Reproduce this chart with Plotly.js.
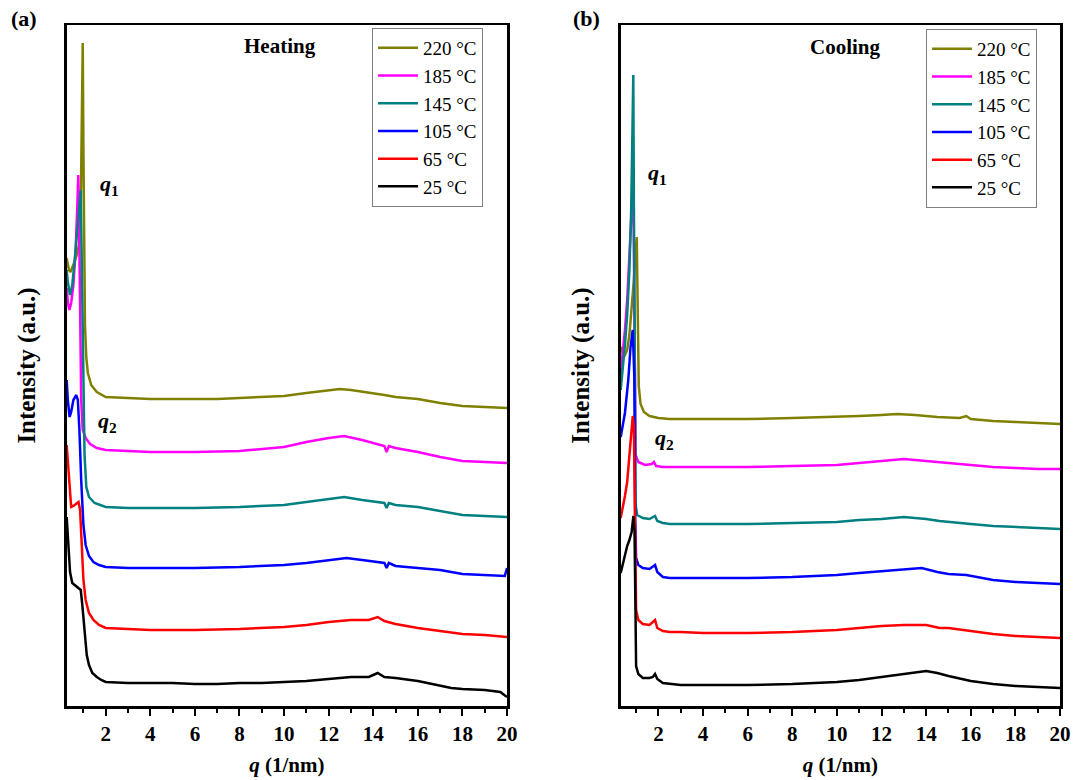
<!DOCTYPE html>
<html><head><meta charset="utf-8">
<script src="https://cdn.plot.ly/plotly-3.0.1.min.js"></script>
<style>html,body{margin:0;padding:0;background:#fff}</style>
</head><body><div id="chart" style="width:1073px;height:780px"></div>
<script>
// ---------- data (q in 1/nm, intensity in arbitrary units) ----------
const temps  = ['220 °C','185 °C','145 °C','105 °C','65 °C','25 °C'];
const colors = ['#808000','#ff00ff','#008080','#0000ff','#ff0000','#000000'];

// Heating
const h220_q = [0.25,0.35,0.42,0.5,0.6,0.7,0.8,0.87,0.91,0.95,0.97,1.0,1.03,1.07,1.13,1.2,1.35,1.6,2,3,4,5,6,7,8,9,10,11,12,12.5,13,14,14.5,15,16,17,18,19,20];
const h220_I = [448,436,434,438,444,451,461,481,556,636,663,556,446,381,348,333,321,314,309,308,307,307,307,307,308,309,310,313,316,317,316,313,311,309,307,303,300,299,298];
const h185_q = [0.25,0.3,0.37,0.45,0.55,0.65,0.72,0.77,0.81,0.85,0.9,0.97,1.1,1.3,1.6,2,3,4,6,8,10,11,12,12.7,13.5,14.5,14.6,14.7,15,16,17,18,19,20];
const h185_I = [418,404,396,403,421,456,496,531,476,386,306,276,268,262,258,256,255,254,254,255,259,264,268,270,266,260,254,260,258,254,249,245,244,243];
const h145_q = [0.25,0.3,0.4,0.5,0.6,0.7,0.8,0.88,0.95,1.0,1.05,1.13,1.25,1.5,2,3,4,6,8,10,11,12,12.7,13.5,14.5,14.6,14.7,15,16,17,18,19,20];
const h145_I = [436,424,411,421,444,471,501,516,406,306,251,219,209,203,199,198,198,198,199,201,204,207,209,206,203,198,203,201,199,195,191,190,189];
const h105_q = [0.25,0.3,0.38,0.45,0.55,0.68,0.75,0.82,0.9,1.0,1.1,1.25,1.45,1.7,2,3,4,6,8,10,11,12,12.8,13.5,14.5,14.6,14.7,15,16,17,18,19,19.9,20];
const h105_I = [326,306,289,294,306,311,306,276,226,181,161,150,144,141,139,138,138,138,139,141,143,146,148,146,143,138,143,140,138,136,132,131,130,138];
const h65_q  = [0.25,0.3,0.4,0.45,0.55,0.7,0.78,0.85,0.92,1.0,1.1,1.25,1.45,1.7,2,3,4,6,8,10,11,12,13,13.8,14.2,14.5,15,16,17,18,19,20];
const h65_I  = [261,244,206,199,200,203,204,196,161,126,106,93,86,81,78,77,76,76,77,79,81,84,86,86,89,85,82,78,75,72,71,69];
const h25_q  = [0.25,0.3,0.4,0.5,0.6,0.7,0.8,0.88,0.95,1.05,1.15,1.25,1.4,1.6,1.8,2,3,4,5,6,7,8,9,10,11,12,13,13.8,14.2,14.5,15,16,17,17.5,18,19,19.7,20];
const h25_I  = [189,171,134,123,121,120,118,116,101,71,51,41,33,29,26,24,23,23,23,22,22,23,23,24,25,27,29,29,33,29,28,25,20,18,17,16,14,9];

// Cooling
const c220_q = [0.31,0.4,0.5,0.6,0.7,0.8,0.9,0.97,1.03,1.07,1.12,1.2,1.35,1.6,2,2.5,3,4,6,8,10,11,12,12.7,13.5,14.5,15.5,15.8,16,17,18,19,20];
const c220_I = [359,353,351,356,371,396,426,451,469,400,320,302,294,290,288,287,287,287,287,288,289,290,291,292,291,289,288,290,287,285,284,283,282];
const c185_q = [0.31,0.4,0.5,0.6,0.7,0.78,0.85,0.87,0.9,0.94,0.98,1.1,1.4,1.7,1.8,1.9,2.2,3,4,6,8,10,11,12,13,14,15,16,17,18,19,20];
const c185_I = [333,351,376,406,446,486,531,539,456,306,251,244,241,242,244,240,239,239,239,239,240,241,243,245,247,245,243,241,239,238,237,237];
const c145_q = [0.31,0.4,0.5,0.6,0.7,0.78,0.84,0.875,0.9,0.94,0.98,1.05,1.3,1.6,1.75,1.85,1.95,2.2,2.5,3,4,6,8,10,11,12,13,14,14.6,15,16,17,18,19,20];
const c145_I = [316,336,361,391,436,496,566,631,506,286,201,191,188,187,189,190,185,183,182,182,182,182,183,184,186,187,189,187,185,184,182,180,179,178,177];
const c105_q = [0.31,0.4,0.5,0.65,0.75,0.85,0.92,0.96,1.0,1.1,1.3,1.6,1.75,1.85,1.95,2.2,2.5,3,4,6,8,10,11,12,13,13.8,14.5,15,15.8,17,18,19,20];
const c105_I = [269,280,293,326,359,376,330,186,148,141,138,137,140,141,134,129,128,128,128,128,129,131,133,135,137,138,134,132,131,126,124,123,122];
const c65_q  = [0.31,0.4,0.5,0.6,0.7,0.78,0.85,0.9,0.93,0.96,1.0,1.1,1.3,1.6,1.75,1.85,1.95,2.2,2.5,3,4,6,8,10,11,12,13,14,14.6,15,16,17,18,19,20];
const c65_I  = [188,198,210,224,248,272,290,280,220,146,96,86,82,81,84,86,78,75,74,74,73,73,74,76,78,80,81,81,78,78,75,72,70,69,68];
const c25_q  = [0.31,0.4,0.5,0.6,0.7,0.8,0.88,0.93,0.97,1.0,1.1,1.3,1.6,1.75,1.85,1.95,2.2,2.5,3,4,6,8,10,11,12,13,13.5,14,14.5,15,16,17,18,19,20];
const c25_I  = [133,142,152,160,166,174,190,175,100,40,32,28,28,29,32,27,23,22,21,21,21,22,24,26,29,32,34,35,33,30,25,22,20,19,18];

const heating = [[h220_q,h220_I],[h185_q,h185_I],[h145_q,h145_I],[h105_q,h105_I],[h65_q,h65_I],[h25_q,h25_I]];
const cooling = [[c220_q,c220_I],[c185_q,c185_I],[c145_q,c145_I],[c105_q,c105_I],[c65_q,c65_I],[c25_q,c25_I]];

// ---------- layout helpers ----------
const W = 1073, H = 780;
const px = x => x / W, py = y => 1 - y / H;
const FONT = 'Liberation Serif';

const traces = [];
heating.forEach((s, i) => traces.push({
  x: s[0], y: s[1], type: 'scatter', mode: 'lines', name: temps[i],
  line: {color: colors[i], width: 2.5}, xaxis: 'x', yaxis: 'y',
  legend: 'legend', legendgroup: 'a' + i
}));
cooling.forEach((s, i) => traces.push({
  x: s[0], y: s[1], type: 'scatter', mode: 'lines', name: temps[i],
  line: {color: colors[i], width: 2.5}, xaxis: 'x2', yaxis: 'y2',
  legend: 'legend2', legendgroup: 'b' + i
}));

function xAxis(domain, range, anchor) {
  return {
    domain, range, anchor, tickmode: 'linear', tick0: 0, dtick: 2,
    ticks: 'outside', ticklen: 7, tickwidth: 2, tickcolor: '#000',
    minor: {dtick: 1, ticks: 'outside', ticklen: 4, tickwidth: 2, tickcolor: '#000', showgrid: false},
    showline: true, linewidth: 2.5, linecolor: '#000', mirror: true,
    showgrid: false, zeroline: false,
    tickfont: {family: FONT, size: 21, color: '#000', weight: 'bold'},
    title: {text: '<b><i>q</i> (1/nm)</b>', font: {family: FONT, size: 21, color: '#000'}, standoff: 13}
  };
}
function yAxis(anchor) {
  return {
    domain: [py(706), py(25)], range: [0, 681], anchor,
    showticklabels: false, ticks: '', showline: true, linewidth: 2.5,
    linecolor: '#000', mirror: true, showgrid: false, zeroline: false,
    title: {text: '<b>Intensity (a.u.)</b>', font: {family: FONT, size: 25, color: '#000'}, standoff: 22}
  };
}
function legendAt(x, y) {
  return {
    x: px(x), y: py(y), xanchor: 'left', yanchor: 'top', xref: 'paper', yref: 'paper',
    bgcolor: '#fff', bordercolor: '#808080', borderwidth: 1,
    font: {family: FONT, size: 19, color: '#000'},
    traceorder: 'grouped', tracegroupgap: 0, itemwidth: 40
  };
}
function note(text, x, y, size) {
  return {text, x: px(x), y: py(y), xref: 'paper', yref: 'paper', showarrow: false,
          xanchor: 'center', yanchor: 'middle', font: {family: FONT, size, color: '#000'}};
}

const layout = {
  width: W, height: H, margin: {l: 0, r: 0, t: 0, b: 0},
  paper_bgcolor: '#fff', plot_bgcolor: '#fff', showlegend: true,
  xaxis: xAxis([px(66.7), px(507)], [0.25, 20], 'y'),
  yaxis: yAxis('x'),
  xaxis2: xAxis([px(620.7), px(1060)], [0.31, 20], 'y2'),
  yaxis2: yAxis('x2'),
  legend: legendAt(372, 28),
  legend2: legendAt(926, 29),
  annotations: [
    note('<b>(a)</b>', 24, 18, 22),
    note('<b>(b)</b>', 586, 18, 22),
    note('<b>Heating</b>', 280, 46, 21),
    note('<b>Cooling</b>', 845, 47, 21),
    note('<b><i>q</i><sub>1</sub></b>', 109, 185, 22),
    note('<b><i>q</i><sub>2</sub></b>', 107, 422, 22),
    note('<b><i>q</i><sub>1</sub></b>', 657, 174, 22),
    note('<b><i>q</i><sub>2</sub></b>', 664, 439, 22)
  ]
};

Plotly.newPlot('chart', traces, layout, {staticPlot: true, displayModeBar: false});
</script>
</body></html>
